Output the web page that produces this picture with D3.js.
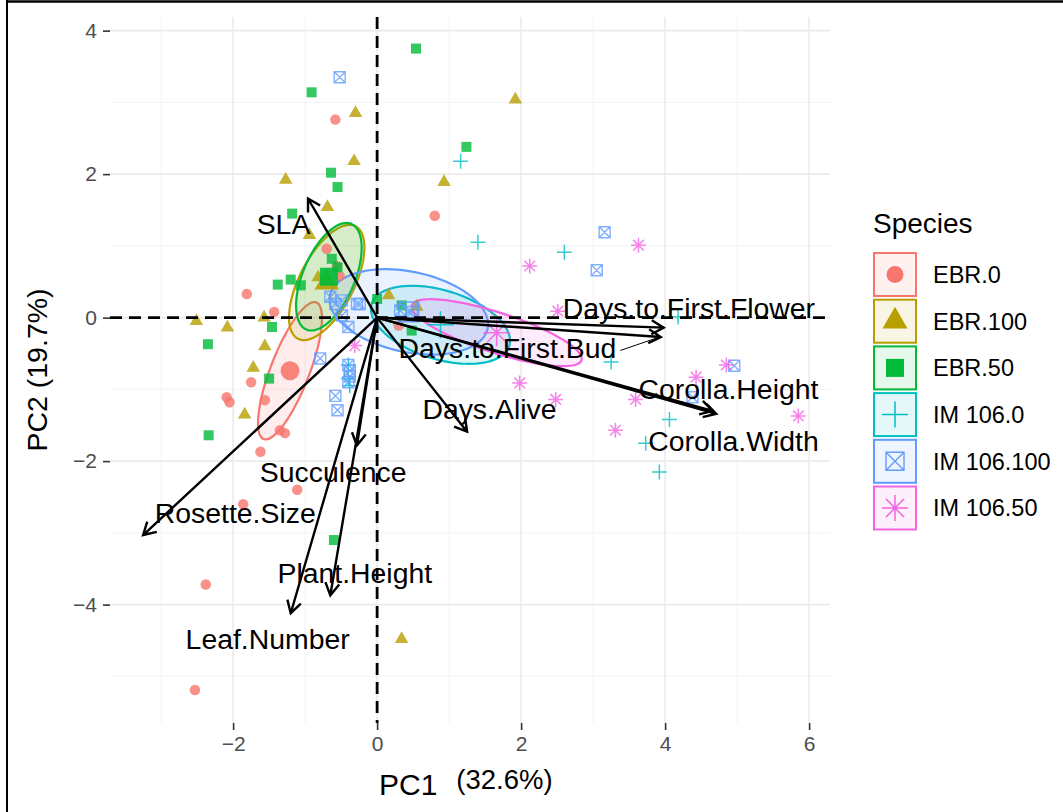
<!DOCTYPE html>
<html>
<head>
<meta charset="utf-8">
<script src="https://cdn.jsdelivr.net/npm/d3@7"></script>
<style>
body, html {
  margin: 0;
  padding: 0;
  background: #fff;
  font-family: "Liberation Sans", Arial, sans-serif;
}
.grid-major { stroke: #ebebeb; stroke-width: 1.6; }
.grid-minor { stroke: #f2f2f2; stroke-width: 0.9; }
.tick text { fill: #4d4d4d; font-size: 21px; }
.tick line { stroke: #333; stroke-width: 1.6; }
.zero { stroke: #000; stroke-width: 2.8; stroke-dasharray: 12 7; }
.arrow { stroke: #000; stroke-width: 2.4; fill: none; }
.varname { font-size: 28.4px; fill: #000; }
</style>
</head>
<body>
<svg id="chart" width="1063" height="812"></svg>
<script>

// ---- data ----
var species = ["EBR.0", "EBR.100", "EBR.50", "IM 106.0", "IM 106.100", "IM 106.50"];
var colors  = ["#F8766D", "#B79F00", "#00BA38", "#00BFC4", "#619CFF", "#F564E3"];
var shapes  = ["circle", "triangle", "square", "plus", "boxcross", "asterisk"];

var ebr0 = [[-0.58, 2.76], [0.80, 1.42], [-0.70, 0.96], [-0.56, 0.72], [-0.52, 0.58], [-1.81, 0.33],
  [-1.43, 0.08], [-1.75, -0.90], [-2.09, -1.11], [-2.05, -1.18], [-1.56, -1.15], [-1.35, -1.57],
  [-1.28, -1.61], [-1.62, -1.87], [-1.11, -2.40], [-1.86, -2.60], [-2.38, -3.72], [-2.53, -5.19],
  [0.30, -0.11]];
var ebr100 = [[-0.30, 2.85], [-0.32, 2.18], [-1.27, 1.92], [-0.69, 1.54], [-0.94, 1.15], [1.92, 3.04],
  [0.93, 1.89], [-0.82, 0.56], [0.16, 0.31], [0.55, 0.15], [-2.51, -0.05], [-2.08, -0.14],
  [-1.57, 0.00], [-1.56, -0.40], [-1.72, -0.70], [-1.84, -1.35], [0.34, -4.48]];
var ebr50 = [[-0.91, 3.14], [-0.64, 2.02], [-0.55, 1.82], [-1.18, 1.45], [-0.63, 0.82], [0.54, 3.75],
  [1.24, 2.38], [-1.38, 0.46], [-1.20, 0.53], [-1.06, 0.45], [0.00, 0.26], [0.34, 0.17],
  [0.48, -0.18], [-1.46, -0.13], [-2.35, -0.37], [-1.50, -0.85], [-2.34, -1.64], [-0.60, -3.10],
  [-0.55, 0.70]];
var im0 = [[1.16, 2.18], [1.40, 1.05], [2.60, 0.91], [4.18, 0.01], [3.25, -0.62], [4.06, -1.42],
  [3.73, -1.75], [3.92, -2.15], [-0.40, -0.66], [-0.40, -0.85], [-0.38, -0.95]];
var im100 = [[-0.52, 3.35], [3.16, 1.19], [3.05, 0.66], [4.96, -0.67], [4.38, -1.11], [-0.65, 0.29],
  [-0.58, 0.19], [-0.49, 0.24], [-0.28, 0.19], [-0.24, 0.19], [0.32, 0.10], [0.48, 0.08],
  [-0.49, 0.03], [-0.40, -0.13], [-0.79, -0.57], [-0.58, -1.09], [-0.55, -1.29], [-0.40, -0.66],
  [-0.38, -0.74], [-0.38, -0.82], [-0.40, -0.90]];
var im50 = [[3.63, 1.01], [2.12, 0.72], [2.51, 0.09], [1.98, -0.91], [2.48, -1.14], [3.31, -1.57],
  [4.85, -0.66], [4.43, -0.83], [3.59, -1.14], [5.85, -1.37], [-0.31, -0.39]];
var groups = [ebr0, ebr100, ebr50, im0, im100, im50];

// group means (drawn large) and 68% ellipses: semi-axes and angle (degrees)
var centroids = [[-1.21, -0.74], [-0.70, 0.49], [-0.67, 0.57], [0.88, -0.10], [0.44, 0.08], [1.66, -0.21]];
var ellA   = [1.02, 0.88, 0.80, 1.00, 1.12, 1.24];
var ellB   = [0.27, 0.38, 0.36, 0.48, 0.56, 0.28];
var ellAng = [69, 63, 67, -17, -12, -18];

// loadings arrows
var vars = ["SLA", "Days.to.First.Flower", "Days.to.First.Bud", "Corolla.Height", "Corolla.Width",
  "Days.Alive", "Succulence", "Rosette.Size", "Plant.Height", "Leaf.Number"];
var varPC1 = [-0.96, 3.98, 3.94, 4.66, 4.71, 1.25, -0.28, -3.25, -0.65, -1.20];
var varPC2 = [1.66, -0.14, -0.27, -1.30, -1.34, -1.59, -1.78, -3.03, -3.87, -4.12];
var labPC1 = [-1.30, 4.33, 1.81, 4.88, 4.95, 1.56, -0.61, -1.97, -0.31, -1.52];
var labPC2 = [1.31, 0.14, -0.43, -0.99, -1.72, -1.28, -2.15, -2.72, -3.56, -4.48];
var leader = [false, false, true, false, false, false, false, false, false, false];

var xTicks = [-2, 0, 2, 4, 6];
var yTicks = [-4, -2, 0, 2, 4];
var xMinor = [-3, -1, 1, 3, 5];
var yMinor = [-5, -3, -1, 1, 3];
var xTitle = ["PC1", "(32.6%)"];
var yTitle = "PC2 (19.7%)";
var legendTitle = "Species";

//==========================================
var svg = d3.select("#chart");

var panel = {left: 110, right: 830, top: 17, bottom: 723};
var x = d3.scaleLinear().domain([-3.71, 6.29]).range([panel.left, panel.right]);
var y = d3.scaleLinear().domain([-5.65, 4.19]).range([panel.bottom, panel.top]);

// image frame
svg.append("line").attr("x1", 7).attr("x2", 1063).attr("y1", 1.5).attr("y2", 1.5)
  .attr("stroke", "#000").attr("stroke-width", 2.5);
svg.append("line").attr("x1", 7).attr("x2", 7).attr("y1", 0).attr("y2", 812)
  .attr("stroke", "#000").attr("stroke-width", 2);

// grid
var grid = svg.append("g");
grid.selectAll(".vmin").data(xMinor).enter().append("line").attr("class", "grid-minor")
  .attr("x1", x).attr("x2", x).attr("y1", panel.top).attr("y2", panel.bottom);
grid.selectAll(".hmin").data(yMinor).enter().append("line").attr("class", "grid-minor")
  .attr("y1", y).attr("y2", y).attr("x1", panel.left).attr("x2", panel.right);
grid.selectAll(".vmaj").data(xTicks).enter().append("line").attr("class", "grid-major")
  .attr("x1", x).attr("x2", x).attr("y1", panel.top).attr("y2", panel.bottom);
grid.selectAll(".hmaj").data(yTicks).enter().append("line").attr("class", "grid-major")
  .attr("y1", y).attr("y2", y).attr("x1", panel.left).attr("x2", panel.right);

// axes
var fmt = function(d) { return d < 0 ? "\u2212" + Math.abs(d) : String(d); };
svg.append("g").attr("transform", "translate(0," + panel.bottom + ")")
  .call(d3.axisBottom(x).tickValues(xTicks).tickFormat(fmt).tickSize(7).tickPadding(6))
  .call(function(g) { g.select(".domain").remove(); });
svg.append("g").attr("transform", "translate(" + panel.left + ",0)")
  .call(d3.axisLeft(y).tickValues(yTicks).tickFormat(fmt).tickSize(7).tickPadding(6))
  .call(function(g) { g.select(".domain").remove(); });
svg.selectAll(".tick text").attr("font-family", "Liberation Sans, Arial, sans-serif").attr("font-size", 21);

// axis titles
var xt = svg.append("text").attr("x", 379).attr("y", 795).attr("fill", "#000");
xt.append("tspan").attr("font-size", 30).text(xTitle[0]);
xt.append("tspan").attr("font-size", 27.5).attr("dx", 19).attr("dy", -6).text(xTitle[1]);
svg.append("text").attr("transform", "translate(47," + ((panel.top + panel.bottom) / 2) + ") rotate(-90)")
  .attr("text-anchor", "middle").attr("font-size", 28.5).attr("fill", "#000").text(yTitle);

// ellipses
var ellLine = d3.line().x(function(d) { return x(d[0]); }).y(function(d) { return y(d[1]); });
function ellipsePts(i) {
  var a = ellA[i], b = ellB[i], t = ellAng[i] * Math.PI / 180, c = centroids[i];
  return d3.range(0, 101).map(function(k) {
    var u = k / 100 * 2 * Math.PI;
    var ex = a * Math.cos(u), ey = b * Math.sin(u);
    return [c[0] + ex * Math.cos(t) - ey * Math.sin(t), c[1] + ex * Math.sin(t) + ey * Math.cos(t)];
  });
}
var ell = svg.append("g");
species.forEach(function(s, i) {
  ell.append("path").attr("d", ellLine(ellipsePts(i)) + "Z")
    .attr("fill", colors[i]).attr("fill-opacity", 0.13)
    .attr("stroke", colors[i]).attr("stroke-width", 2.2);
});

// symbols
function drawSymbol(g, shape, s, color) {
  var h = s / 2;
  if (shape === "circle") {
    g.append("circle").attr("r", h).attr("fill", color);
  } else if (shape === "triangle") {
    var th = s * 0.866;
    g.append("path").attr("d", "M0," + (-th * 2 / 3) + "L" + h + "," + (th / 3) + "L" + (-h) + "," + (th / 3) + "Z")
      .attr("fill", color);
  } else if (shape === "square") {
    g.append("rect").attr("x", -h).attr("y", -h).attr("width", s).attr("height", s).attr("fill", color);
  } else if (shape === "plus") {
    g.append("path").attr("d", "M" + (-h) + ",0H" + h + "M0," + (-h) + "V" + h)
      .attr("stroke", color).attr("stroke-width", 1.5).attr("fill", "none");
  } else if (shape === "boxcross") {
    g.append("path").attr("d", "M" + (-h) + "," + (-h) + "H" + h + "V" + h + "H" + (-h) + "Z" +
        "M" + (-h) + "," + (-h) + "L" + h + "," + h + "M" + h + "," + (-h) + "L" + (-h) + "," + h)
      .attr("stroke", color).attr("stroke-width", 1.4).attr("fill", "none");
  } else if (shape === "asterisk") {
    var d = h * 0.707;
    g.append("path").attr("d", "M" + (-h) + ",0H" + h + "M0," + (-h) + "V" + h +
        "M" + (-d) + "," + (-d) + "L" + d + "," + d + "M" + d + "," + (-d) + "L" + (-d) + "," + d)
      .attr("stroke", color).attr("stroke-width", 1.5).attr("fill", "none");
  }
}
var pointSize = {circle: 10.5, triangle: 13.5, square: 10, plus: 15, boxcross: 11, asterisk: 15};

var pts = svg.append("g");
groups.forEach(function(arr, i) {
  arr.forEach(function(p) {
    var g = pts.append("g").attr("transform", "translate(" + x(p[0]) + "," + y(p[1]) + ")")
      .attr("opacity", 0.8);
    drawSymbol(g, shapes[i], pointSize[shapes[i]], colors[i]);
  });
});
centroids.forEach(function(p, i) {
  var g = pts.append("g").attr("transform", "translate(" + x(p[0]) + "," + y(p[1]) + ")")
    .attr("opacity", 0.9);
  drawSymbol(g, shapes[i], pointSize[shapes[i]] * 1.8, colors[i]);
});

// zero lines
svg.append("line").attr("class", "zero").attr("x1", panel.left).attr("x2", panel.right)
  .attr("y1", y(0)).attr("y2", y(0));
svg.append("line").attr("class", "zero").attr("x1", x(0)).attr("x2", x(0))
  .attr("y1", panel.top).attr("y2", panel.bottom);

// arrows
var arr = svg.append("g");
var headLen = 14, headAng = Math.PI / 6;
vars.forEach(function(v, i) {
  var x0 = x(0), y0 = y(0), x1 = x(varPC1[i]), y1 = y(varPC2[i]);
  var ang = Math.atan2(y1 - y0, x1 - x0);
  var hx1 = x1 - headLen * Math.cos(ang - headAng), hy1 = y1 - headLen * Math.sin(ang - headAng);
  var hx2 = x1 - headLen * Math.cos(ang + headAng), hy2 = y1 - headLen * Math.sin(ang + headAng);
  arr.append("path").attr("class", "arrow")
    .attr("d", "M" + x0 + "," + y0 + "L" + x1 + "," + y1 +
      "M" + hx1 + "," + hy1 + "L" + x1 + "," + y1 + "L" + hx2 + "," + hy2);
});
vars.forEach(function(v, i) {
  var t = arr.append("text").attr("class", "varname")
    .attr("x", x(labPC1[i])).attr("y", y(labPC2[i])).attr("dy", "0.35em")
    .attr("text-anchor", "middle").text(v);
  if (leader[i]) {
    var w = t.node().getComputedTextLength();
    arr.append("line").attr("x1", x(labPC1[i]) + w / 2 + 4).attr("y1", y(labPC2[i]) + 2)
      .attr("x2", x(varPC1[i]) - 4).attr("y2", y(varPC2[i]) + 1)
      .attr("stroke", "#000").attr("stroke-width", 1);
  }
});

// legend
var leg = svg.append("g").attr("transform", "translate(873,0)");
leg.append("text").attr("x", 0).attr("y", 233).attr("font-size", 28).attr("fill", "#000").text(legendTitle);
var legendSize = {circle: 17, triangle: 25, square: 18, plus: 26, boxcross: 18, asterisk: 26};
species.forEach(function(s, i) {
  var top = 252 + i * 46.7;
  var key = leg.append("g").attr("transform", "translate(0," + top + ")");
  key.append("rect").attr("x", 1).attr("y", 1).attr("width", 42).attr("height", 43)
    .attr("fill", colors[i]).attr("fill-opacity", 0.1)
    .attr("stroke", colors[i]).attr("stroke-width", 2);
  var g = key.append("g").attr("transform", "translate(22,22.5)");
  drawSymbol(g, shapes[i], legendSize[shapes[i]], colors[i]);
  key.append("text").attr("x", 60).attr("y", 22.5).attr("dy", "0.36em")
    .attr("font-size", 23.5).attr("fill", "#000").text(s);
});

</script>
</body>
</html>
